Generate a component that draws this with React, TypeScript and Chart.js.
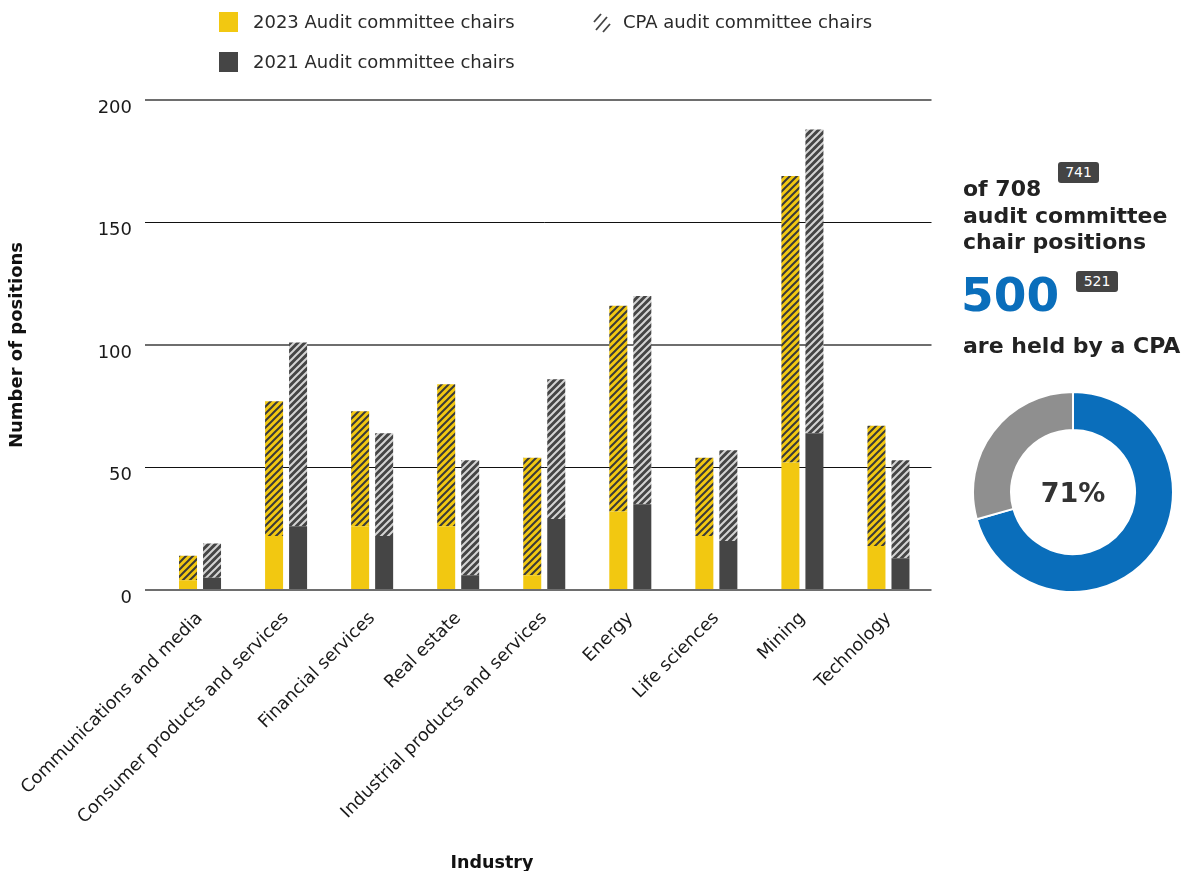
import React, { useEffect, useRef } from "react";
import { Chart, registerables } from "chart.js";

Chart.register(...registerables);

const categories = [
  "Communications and media",
  "Consumer products and services",
  "Financial services",
  "Real estate",
  "Industrial products and services",
  "Energy",
  "Life sciences",
  "Mining",
  "Technology",
];
// Non-CPA (solid) and CPA (hatched) audit committee chair positions
const nonCpa2023 = [4, 22, 26, 26, 6, 32, 22, 52, 18];
const cpa2023 = [10, 55, 47, 58, 48, 84, 32, 117, 49];
const nonCpa2021 = [5, 26, 22, 6, 29, 35, 20, 64, 13];
const cpa2021 = [14, 75, 42, 47, 57, 85, 37, 124, 40];
const yTicks = [0, 50, 100, 150, 200];

const sum = (a: number[]) => a.reduce((s, v) => s + v, 0);
const total2023 = sum(nonCpa2023) + sum(cpa2023); // 708
const total2021 = sum(nonCpa2021) + sum(cpa2021); // 741
const cpaTotal2023 = sum(cpa2023); // 500
const cpaTotal2021 = sum(cpa2021); // 521
const cpaShare = [cpaTotal2023, total2023 - cpaTotal2023];

const FONT = "'DejaVu Sans', sans-serif";
const YELLOW = "#f2c811";
const DARK = "#454545";
const BLUE = "#0a6ebb";
const GREY = "#8f8f8f";
const TEXT = "#1a1a1a";

function makeHatch(ctx: CanvasRenderingContext2D, bg: string, stripe: string) {
  const s = 7;
  const c = document.createElement("canvas");
  c.width = s;
  c.height = s;
  const g = c.getContext("2d")!;
  g.fillStyle = bg;
  g.fillRect(0, 0, s, s);
  g.strokeStyle = stripe;
  g.lineWidth = 2;
  g.beginPath();
  g.moveTo(-1, s + 1);
  g.lineTo(s + 1, -1);
  g.moveTo(-2, 2);
  g.lineTo(2, -2);
  g.moveTo(s - 2, s + 2);
  g.lineTo(s + 2, s - 2);
  g.stroke();
  return ctx.createPattern(c, "repeat")!;
}

export default function App() {
  const barRef = useRef<HTMLCanvasElement>(null);
  const donutRef = useRef<HTMLCanvasElement>(null);

  useEffect(() => {
    Chart.defaults.font.family = FONT;
    const ctx = barRef.current!.getContext("2d")!;
    const hatchY = makeHatch(ctx, YELLOW, "#3a3a3a");
    const hatchD = makeHatch(ctx, DARK, "#d4d4d4");

    const bar = new Chart(barRef.current!, {
      type: "bar",
      data: {
        labels: categories,
        datasets: [
          { label: "2023 non-CPA", data: nonCpa2023, backgroundColor: YELLOW, stack: "2023" },
          { label: "2023 CPA", data: cpa2023, backgroundColor: hatchY, stack: "2023" },
          { label: "2021 non-CPA", data: nonCpa2021, backgroundColor: DARK, stack: "2021" },
          { label: "2021 CPA", data: cpa2021, backgroundColor: hatchD, stack: "2021" },
        ],
      },
      options: {
        responsive: false,
        animation: false,
        categoryPercentage: 0.558,
        barPercentage: 0.75,
        layout: { padding: { top: 100, right: 53.5, left: 0, bottom: 0 } },
        plugins: { legend: { display: false }, tooltip: { enabled: false } },
        scales: {
          x: {
            stacked: true,
            grid: { display: false, drawTicks: false },
            border: { display: false },
            ticks: {
              autoSkip: false,
              minRotation: 45,
              maxRotation: 45,
              padding: 18,
              color: TEXT,
              font: { family: FONT, size: 17.7 },
            },
            afterFit: (s: any) => {
              s.height = 281;
              s.paddingLeft = 0;
              s.paddingRight = 0;
            },
          },
          y: {
            stacked: true,
            min: 0,
            max: 200,
            afterBuildTicks: (s: any) => {
              s.ticks = yTicks.map((v) => ({ value: v }));
            },
            ticks: {
              padding: 13,
              labelOffset: 8,
              color: TEXT,
              font: { family: FONT, size: 18 },
            },
            grid: {
              drawTicks: true,
              tickLength: 12,
              color: (c: any) => (c.tick && c.tick.value % 100 === 0 ? "#6e6e6e" : "#111"),
              lineWidth: (c: any) => (c.tick && c.tick.value % 100 === 0 ? 2 : 1),
            },
            border: { display: false },
            title: {
              display: true,
              text: "Number of positions",
              color: "#111",
              font: { family: FONT, size: 18, weight: "bold" },
              padding: { top: 7, bottom: 0 },
            },
            afterFit: (s: any) => {
              s.width = 157;
              s.paddingTop = 0;
              s.paddingBottom = 0;
            },
          },
        },
      },
    } as any);

    const donut = new Chart(donutRef.current!, {
      type: "doughnut",
      data: {
        labels: ["CPA", "Non-CPA"],
        datasets: [
          {
            data: cpaShare,
            backgroundColor: [BLUE, GREY],
            borderColor: "#fff",
            borderWidth: 2,
          },
        ],
      },
      options: {
        responsive: false,
        animation: false,
        cutout: "62%",
        plugins: { legend: { display: false }, tooltip: { enabled: false } },
      },
    } as any);

    return () => {
      bar.destroy();
      donut.destroy();
    };
  }, []);

  const pct = Math.round((cpaTotal2023 / total2023) * 100);

  const legendText: React.CSSProperties = {
    position: "absolute",
    fontFamily: FONT,
    fontSize: 18,
    lineHeight: "20px",
    color: "#2a2a2a",
    whiteSpace: "nowrap",
  };
  const bold22: React.CSSProperties = {
    position: "absolute",
    fontFamily: FONT,
    fontWeight: "bold",
    fontSize: 22,
    color: "#222",
    whiteSpace: "nowrap",
  };
  const badge: React.CSSProperties = {
    position: "absolute",
    background: "#444",
    color: "#fff",
    borderRadius: 3,
    fontFamily: FONT,
    fontSize: 14,
    lineHeight: "21px",
    height: 21,
    textAlign: "center",
  };

  return (
    <div
      style={{
        position: "fixed",
        left: 0,
        top: 0,
        width: 1189,
        height: 871,
        background: "#fff",
        overflow: "hidden",
      }}
    >
      <canvas ref={barRef} width={985} height={871} style={{ position: "absolute", left: 0, top: 0 }} />

      {/* legend */}
      <div style={{ position: "absolute", left: 219, top: 12, width: 19, height: 20, background: YELLOW }} />
      <div style={{ ...legendText, left: 253, top: 12 }}>2023 Audit committee chairs</div>
      <div style={{ position: "absolute", left: 219, top: 52, width: 19, height: 20, background: DARK }} />
      <div style={{ ...legendText, left: 253, top: 52 }}>2021 Audit committee chairs</div>
      <svg style={{ position: "absolute", left: 593, top: 13 }} width={20} height={20}>
        <g stroke="#444" strokeWidth={1.8} strokeLinecap="butt">
          <line x1={1} y1={9} x2={8} y2={1} />
          <line x1={3} y1={17} x2={14} y2={4} />
          <line x1={10} y1={19} x2={17} y2={11} />
        </g>
      </svg>
      <div style={{ ...legendText, left: 623, top: 12 }}>CPA audit committee chairs</div>

      {/* x-axis title */}
      <div
        style={{
          position: "absolute",
          left: 392,
          width: 200,
          top: 852,
          textAlign: "center",
          fontFamily: FONT,
          fontWeight: "bold",
          fontSize: 17.5,
          lineHeight: "20px",
          color: "#111",
        }}
      >
        Industry
      </div>

      {/* right panel */}
      <div style={{ ...bold22, left: 963, top: 176, lineHeight: "26.5px" }}>
        of {total2023}
        <br />
        audit committee
        <br />
        chair positions
      </div>
      <div style={{ ...badge, left: 1058, top: 162, width: 41 }}>{total2021}</div>
      <div
        style={{
          position: "absolute",
          left: 961,
          top: 272,
          fontFamily: FONT,
          fontWeight: "bold",
          fontSize: 47,
          lineHeight: "45px",
          color: BLUE,
        }}
      >
        {cpaTotal2023}
      </div>
      <div style={{ ...badge, left: 1076, top: 271, width: 42 }}>{cpaTotal2021}</div>
      <div style={{ ...bold22, left: 963, top: 332, lineHeight: "27px" }}>are held by a CPA</div>

      <canvas ref={donutRef} width={202} height={202} style={{ position: "absolute", left: 972, top: 391 }} />
      <div
        style={{
          position: "absolute",
          left: 972,
          top: 391,
          width: 202,
          height: 202,
          display: "flex",
          alignItems: "center",
          justifyContent: "center",
          fontFamily: FONT,
          fontWeight: "bold",
          fontSize: 27,
          color: "#333",
        }}
      >
        {pct}%
      </div>
    </div>
  );
}
